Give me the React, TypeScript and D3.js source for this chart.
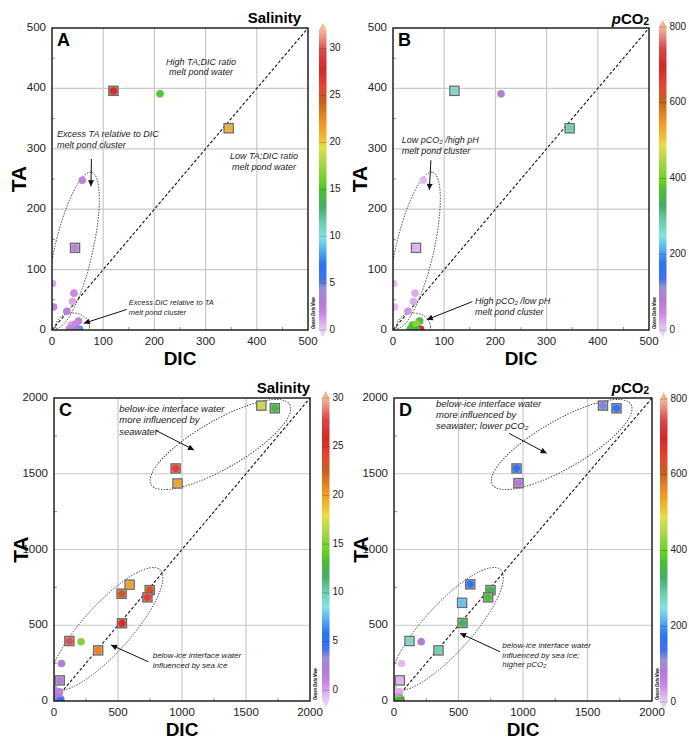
import React from "react";
import * as d3 from "d3";

// ---------- data ----------
// melt pond samples (panels A, B and also shown in C, D)
const meltDIC = [120, 211, 345, 59, 45, 1, 43, 40, 3, 29, 52, 38, 46, 34, 54, 47];
const meltTA = [396, 391, 334, 248, 136, 77, 61, 47, 38, 31, 15, 8, 10, 2, 1, 0];
const meltSalinity = [28, 15.2, 21, 2.4, 2.4, 1, 1.8, 1, 2.2, 2.5, 2.4, 1.3, 1.8, 2, 4.9, 4.5];
const meltPCO2 = [265, 80, 280, 12, 15, 12, 20, 20, 12, 35, 360, 380, 425, 370, 695, 350];
const meltSquare = [true, false, true, false, true, false, false, false, false, false, false, false, false, false, false, false];

// below-ice interface water samples (panels C, D)
const iceDIC = [1620, 1725, 950, 965, 591, 748, 730, 528, 531];
const iceTA_C = [1950, 1932, 1535, 1436, 768, 732, 684, 708, 513];
const iceTA_D = [1950, 1932, 1535, 1438, 770, 732, 684, 648, 515];
const iceSalinity = [17.2, 12.6, 24.4, 19.8, 19.8, 23.2, 24.4, 23, 26.3];
const icePCO2 = [120, 160, 160, 80, 160, 335, 365, 225, 335];

const ticksSmall = [0, 100, 200, 300, 400, 500];
const ticksLarge = [0, 500, 1000, 1500, 2000];
const salinityTicks = [0, 5, 10, 15, 20, 25, 30];
const pco2Ticks = [0, 200, 400, 600, 800];

// ---------- styles ----------
const FONT = "'Liberation Sans', Arial, Helvetica, sans-serif";
const rampT = [0, 0.06, 0.1, 0.14, 0.17, 0.22, 0.27, 0.31, 0.36, 0.41, 0.46, 0.49, 0.55, 0.61, 0.64, 0.69, 0.76, 0.81, 0.87, 0.93, 0.97, 1];
const rampC = ["#e8cdf2", "#c883e0", "#b07ed4", "#9a90d0", "#4070f0", "#2a74f0", "#58b4f2", "#86e2e0", "#6cccaa", "#48ac64", "#4cbc3c", "#64d020", "#a4d44c", "#e4e044", "#f0bc34", "#f09424", "#c4601e", "#e64432", "#d02a28", "#d84848", "#e88a80", "#f2b896"];
const ramp = d3.scaleLinear<string>().domain(rampT).range(rampC).interpolate(d3.interpolateRgb).clamp(true);

type Pt = { dic: number; ta: number; val: number; sq: boolean };

const meltSal: Pt[] = meltDIC.map((d, i) => ({ dic: d, ta: meltTA[i], val: meltSalinity[i], sq: meltSquare[i] }));
const meltCO2: Pt[] = meltDIC.map((d, i) => ({ dic: d, ta: meltTA[i], val: meltPCO2[i], sq: meltSquare[i] }));
const iceSal: Pt[] = iceDIC.map((d, i) => ({ dic: d, ta: iceTA_C[i], val: iceSalinity[i], sq: true }));
const iceCO2: Pt[] = iceDIC.map((d, i) => ({ dic: d, ta: iceTA_D[i], val: icePCO2[i], sq: true }));

type Ell = { cx: number; cy: number; a: number; b: number; angle: number };
type Note = { lines: string[]; x: number; y: number; size: number; lh: number; anchor?: string };
type Arrow = { from: [number, number]; to: [number, number] };

const ellAB: Ell[] = [
  { cx: 42, cy: 132, a: 80, b: 19, angle: -77 },
  { cx: 40, cy: 5, a: 17, b: 14, angle: 0 },
];
const ellCD: Ell[] = [
  { cx: 1300, cy: 1693, a: 80, b: 24, angle: -30 },
  { cx: 410, cy: 475, a: 80, b: 24, angle: -48 },
];

interface Cfg {
  id: string; x0: number; x1: number; y0: number; y1: number; max: number; ticks: number[]; minorStep: number;
  letter: string; title: "sal" | "pco2"; titleX: number; titleY: number;
  barX: number; barTop: number; barBottom: number; barDomain: [number, number]; barTicks: number[];
  points: Pt[]; ells: Ell[]; notes: Note[]; arrows: Arrow[];
}

const panels: Cfg[] = [
  {
    id: "A", x0: 52, x1: 308, y0: 28, y1: 330, max: 500, ticks: ticksSmall, minorStep: 50,
    letter: "A", title: "sal", titleX: 301, titleY: 23,
    barX: 319, barTop: 30, barBottom: 330, barDomain: [0, 32], barTicks: salinityTicks,
    points: meltSal, ells: ellAB,
    notes: [
      { lines: ["High TA;DIC ratio", "melt pond water"], x: 291, y: 439, size: 9, lh: 10.5, anchor: "middle" },
      { lines: ["Low TA;DIC ratio", "melt pond water"], x: 414, y: 283, size: 9, lh: 10.5, anchor: "middle" },
      { lines: ["Excess TA relative to DIC", "melt pond cluster"], x: 10, y: 320, size: 9, lh: 11 },
      { lines: ["Excess DIC relative to TA", "melt pond cluster"], x: 150, y: 41, size: 7.5, lh: 10 },
    ],
    arrows: [
      { from: [77, 283], to: [76, 238] },
      { from: [146, 34], to: [62, 11] },
    ],
  },
  {
    id: "B", x0: 393, x1: 649, y0: 28, y1: 330, max: 500, ticks: ticksSmall, minorStep: 50,
    letter: "B", title: "pco2", titleX: 649, titleY: 24,
    barX: 659, barTop: 27, barBottom: 330, barDomain: [0, 800], barTicks: pco2Ticks,
    points: meltCO2, ells: ellAB,
    notes: [
      { lines: ["Low pCO₂ /high pH", "melt pond cluster"], x: 17, y: 310, size: 9, lh: 11 },
      { lines: ["High pCO₂ /low pH", "melt pond cluster"], x: 160, y: 43, size: 9, lh: 11 },
    ],
    arrows: [
      { from: [74, 281], to: [71, 232] },
      { from: [155, 47], to: [66, 17] },
    ],
  },
  {
    id: "C", x0: 54, x1: 310, y0: 398, y1: 701, max: 2000, ticks: ticksLarge, minorStep: 250,
    letter: "C", title: "sal", titleX: 310, titleY: 393,
    barX: 322, barTop: 398, barBottom: 700, barDomain: [-1, 30], barTicks: salinityTicks,
    points: [...meltSal, ...iceSal], ells: ellCD,
    notes: [
      { lines: ["below-ice interface water", "more influenced by", "seawater"], x: 510, y: 1910, size: 9.5, lh: 11.5 },
      { lines: ["below-ice interface water", "influenced by sea ice"], x: 771, y: 282, size: 8, lh: 9.5 },
    ],
    arrows: [
      { from: [789, 1789], to: [1094, 1657] },
      { from: [737, 259], to: [445, 370] },
    ],
  },
  {
    id: "D", x0: 394, x1: 652, y0: 398, y1: 701, max: 2000, ticks: ticksLarge, minorStep: 250,
    letter: "D", title: "pco2", titleX: 649, titleY: 393,
    barX: 660, barTop: 399, barBottom: 702, barDomain: [0, 800], barTicks: pco2Ticks,
    points: [...meltCO2, ...iceCO2], ells: ellCD,
    notes: [
      { lines: ["below-ice interface water", "more influenced by", "seawater; lower pCO₂"], x: 326, y: 1943, size: 9.5, lh: 11.3 },
      { lines: ["below-ice interface water", "influenced by sea ice;", "higher pCO₂"], x: 840, y: 348, size: 8, lh: 9.3 },
    ],
    arrows: [
      { from: [891, 1767], to: [1183, 1635] },
      { from: [822, 325], to: [512, 447] },
    ],
  },
];

function Panel({ c }: { c: Cfg }) {
  const x = d3.scaleLinear().domain([0, c.max]).range([c.x0, c.x1]);
  const y = d3.scaleLinear().domain([0, c.max]).range([c.y1, c.y0]);
  const cb = d3.scaleLinear().domain(c.barDomain).range([c.barBottom, c.barTop]);
  const colorOf = (v: number) => ramp((v - c.barDomain[0]) / (c.barDomain[1] - c.barDomain[0]));
  const minors = d3.range(c.minorStep, c.max, c.minorStep * 2);
  const clipId = `clip${c.id}`;
  const gradId = `grad${c.id}`;
  const bw = 7.5;
  const cx = (c.x0 + c.x1) / 2;
  const cy = (c.y0 + c.y1) / 2;
  const diag = d3.line<number>().x((d) => x(d)).y((d) => y(d));
  return (
    <g fontFamily={FONT}>
      <defs>
        <clipPath id={clipId}>
          <rect x={c.x0} y={c.y0} width={c.x1 - c.x0} height={c.y1 - c.y0} />
        </clipPath>
        <linearGradient id={gradId} x1="0" y1="1" x2="0" y2="0">
          {rampT.map((t, i) => (
            <stop key={i} offset={t} stopColor={rampC[i]} />
          ))}
        </linearGradient>
      </defs>
      {/* grid */}
      {c.ticks.slice(1, -1).map((t) => (
        <g key={t}>
          <line x1={x(t)} x2={x(t)} y1={c.y0} y2={c.y1} stroke="#c9c9c9" strokeWidth={1.2} />
          <line x1={c.x0} x2={c.x1} y1={y(t)} y2={y(t)} stroke="#c9c9c9" strokeWidth={1.2} />
        </g>
      ))}
      {/* minor ticks */}
      {minors.map((t) => (
        <g key={"m" + t}>
          <line x1={c.x0} x2={c.x0 + 3} y1={y(t)} y2={y(t)} stroke="#777" strokeWidth={0.8} />
          <line x1={x(t)} x2={x(t)} y1={c.y1} y2={c.y1 - 3} stroke="#777" strokeWidth={0.8} />
        </g>
      ))}
      {/* 1:1 line */}
      <path d={diag([0, c.max]) || ""} stroke="#111" strokeWidth={1.1} strokeDasharray="3 2" fill="none" />
      <g clipPath={`url(#${clipId})`}>
        {c.ells.map((e, i) => (
          <ellipse key={i} cx={x(e.cx)} cy={y(e.cy)} rx={e.a} ry={e.b}
            transform={`rotate(${e.angle} ${x(e.cx)} ${y(e.cy)})`}
            fill="none" stroke="#333" strokeWidth={0.9} strokeDasharray="1.4 1.4" />
        ))}
        {c.points.map((p, i) => {
          const px = x(p.dic);
          const py = y(p.ta);
          const col = colorOf(p.val);
          return p.sq ? (
            <g key={i}>
              <rect x={px - 4.6} y={py - 4.6} width={9.2} height={9.2}
                fill={d3.interpolateRgb(col, "#dcdcdc")(0.45)} stroke="#6a6a6a" strokeWidth={1.3} />
              <circle cx={px} cy={py} r={3.6} fill={col} />
            </g>
          ) : (
            <circle key={i} cx={px} cy={py} r={3.8} fill={col} />
          );
        })}
      </g>
      {/* frame */}
      <rect x={c.x0} y={c.y0} width={c.x1 - c.x0} height={c.y1 - c.y0} fill="none" stroke="#111" strokeWidth={1.4} />
      {/* tick labels */}
      {c.ticks.map((t) => (
        <g key={"t" + t} fontSize={11.5} fill="#222">
          <text x={c.x0 - 6} y={y(t)} textAnchor="end" dominantBaseline="middle">{t}</text>
          <text x={x(t)} y={c.y1 + 15} textAnchor="middle">{t}</text>
        </g>
      ))}
      {/* axis labels */}
      <text x={cx} y={c.y1 + 35} textAnchor="middle" fontSize={19} fontWeight="bold">DIC</text>
      <text transform={`translate(${c.x0 - 26},${cy}) rotate(-90)`} textAnchor="middle" fontSize={21} fontWeight="bold">TA</text>
      {/* panel letter */}
      <text x={c.x0 + 5} y={c.y0 + 18} fontSize={18} fontWeight="bold">{c.letter}</text>
      {/* title */}
      {c.title === "sal" ? (
        <text x={c.titleX} y={c.titleY} textAnchor="end" fontSize={15} fontWeight="bold">Salinity</text>
      ) : (
        <text x={c.titleX} y={c.titleY} textAnchor="end" fontSize={15} fontWeight="bold">
          <tspan fontStyle="italic">p</tspan>CO<tspan fontSize={10} dy={1}>2</tspan>
        </text>
      )}
      {/* annotations */}
      {c.notes.map((n, i) => (
        <text key={"n" + i} x={x(n.x)} y={y(n.y)} fontSize={n.size} fontStyle="italic" fill="#222" textAnchor={n.anchor || "start"}>
          {n.lines.map((l, j) => (
            <tspan key={j} x={x(n.x)} dy={j === 0 ? 0 : n.lh}>{l}</tspan>
          ))}
        </text>
      ))}
      {c.arrows.map((a, i) => (
        <line key={"a" + i} x1={x(a.from[0])} y1={y(a.from[1])} x2={x(a.to[0])} y2={y(a.to[1])}
          stroke="#111" strokeWidth={1} markerEnd="url(#arrowHead)" />
      ))}
      {/* Ocean Data View */}
      <text transform={`translate(${c.x1 + 6.5},${c.y1 - 1}) rotate(-90)`} fontSize={4.6} fontWeight="bold" fontStyle="italic" textLength={32} lengthAdjust="spacingAndGlyphs">Ocean Data View</text>
      {/* colour bar */}
      <path d={`M${c.barX},${c.barTop} L${c.barX + bw / 2},${c.barTop - 7} L${c.barX + bw},${c.barTop} Z`} fill={rampC[rampC.length - 1]} />
      <path d={`M${c.barX},${c.barBottom} L${c.barX + bw / 2},${c.barBottom + 7} L${c.barX + bw},${c.barBottom} Z`} fill={rampC[0]} />
      <rect x={c.barX} y={c.barTop} width={bw} height={c.barBottom - c.barTop} fill={`url(#${gradId})`} />
      {c.barTicks.map((t) => (
        <g key={"b" + t}>
          <line x1={c.barX} x2={c.barX + bw} y1={cb(t)} y2={cb(t)} stroke="#000" strokeOpacity={0.25} strokeWidth={0.8} />
          <text x={c.barX + bw + 3} y={cb(t)} dominantBaseline="middle" fontSize={10} fill="#222">{t}</text>
        </g>
      ))}
    </g>
  );
}

export default function App() {
  return (
    <svg width={689} height={739} viewBox="0 0 689 739" style={{ position: "absolute", left: 0, top: 0, background: "#fff" }}>
      <defs>
        <marker id="arrowHead" viewBox="0 0 10 10" refX={10} refY={5} markerWidth={7} markerHeight={6} markerUnits="userSpaceOnUse" orient="auto">
          <path d="M0,0 L10,5 L0,10 Z" fill="#111" />
        </marker>
      </defs>
      <rect width={689} height={739} fill="#fff" />
      {panels.map((p) => (
        <Panel key={p.id} c={p} />
      ))}
    </svg>
  );
}
